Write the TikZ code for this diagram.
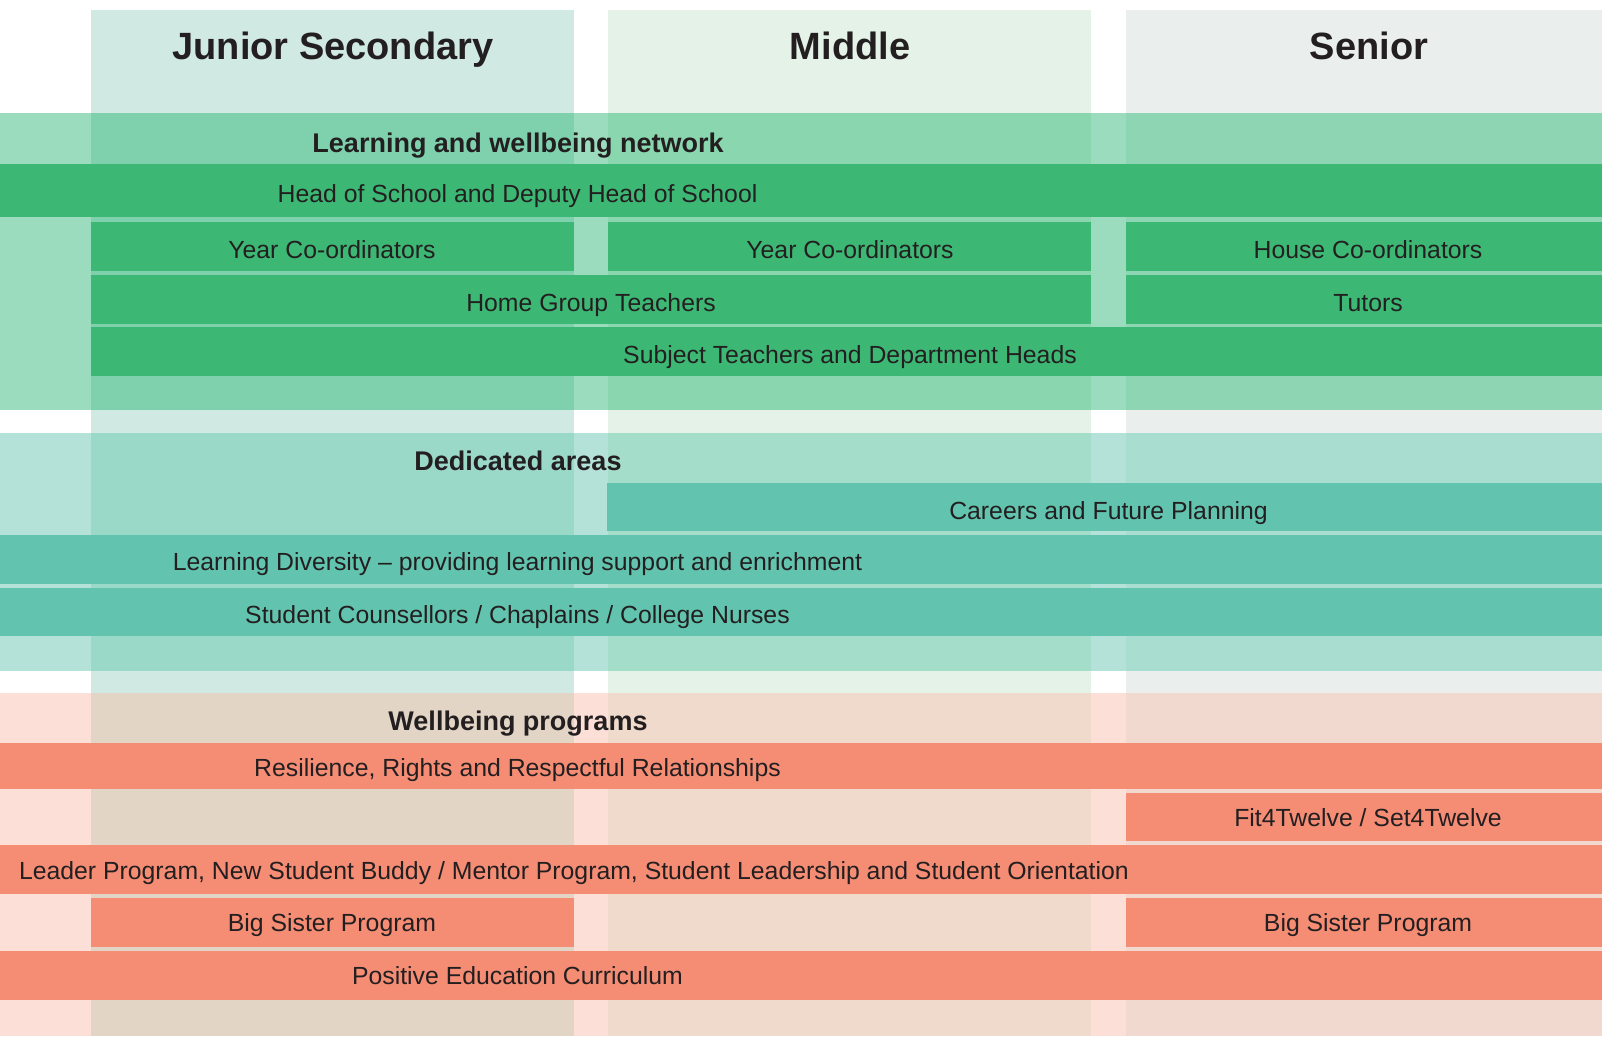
\documentclass[tikz,border=0pt]{standalone}
\usepackage{fontspec}
\setmainfont{Liberation Sans}
\definecolor{ink}{HTML}{231F20}
\definecolor{colJ}{HTML}{D1E9E3}
\definecolor{colM}{HTML}{E4F2E8}
\definecolor{colS}{HTML}{EAEEED}
\definecolor{aO}{HTML}{9CDCBE}
\definecolor{aJ}{HTML}{7FD1AE}
\definecolor{aM}{HTML}{8AD6AF}
\definecolor{aS}{HTML}{8ED5B4}
\definecolor{bO}{HTML}{B4E2D8}
\definecolor{bJ}{HTML}{9AD8C8}
\definecolor{bM}{HTML}{A5DDCB}
\definecolor{bS}{HTML}{A8DDCF}
\definecolor{cO}{HTML}{FCDFD6}
\definecolor{cJ}{HTML}{E3D5C6}
\definecolor{cM}{HTML}{F0DACC}
\definecolor{cS}{HTML}{F2D9D0}
\definecolor{barA}{HTML}{3DB874}
\definecolor{barB}{HTML}{62C4AF}
\definecolor{barC}{HTML}{F58D75}
\newcommand\bandbg[6]{%
  \fill[#3] (0,#1) rectangle (1602,#2);
  \fill[#4] (91,#1) rectangle (574,#2);
  \fill[#5] (608,#1) rectangle (1091,#2);
  \fill[#6] (1126,#1) rectangle (1602,#2);}
\begin{document}
\begin{tikzpicture}[x=1pt,y=-1pt,
  lbl/.style={text=ink,font=\fontsize{24.8}{28}\selectfont,inner sep=0pt,anchor=base},
  ttl/.style={text=ink,font=\bfseries\fontsize{27}{30}\selectfont,inner sep=0pt,anchor=base},
  hdr/.style={text=ink,font=\bfseries\fontsize{38}{44}\selectfont,inner sep=0pt,anchor=base}]
\useasboundingbox (0,0) rectangle (1602,1036);
\fill[white] (0,0) rectangle (1602,1036);
% column backgrounds
\fill[colJ] (91,10) rectangle (574,1036);
\fill[colM] (608,10) rectangle (1091,1036);
\fill[colS] (1126,10) rectangle (1602,1036);
\node[hdr] (hJ) at (333,59) {Junior Secondary};
\node[hdr] (hM) at (850,59) {Middle};
\node[hdr] (hS) at (1369,59) {Senior};
% band 1
\bandbg{113}{410}{aO}{aJ}{aM}{aS}
\node[ttl] (t1) at (518,152) {Learning and wellbeing network};
\fill[barA] (0,163.5) rectangle (1602,216.6);
\node[lbl] (head) at (517.5,202) {Head of School and Deputy Head of School};
\fill[barA] (91,221.7) rectangle (574,270.7);
\fill[barA] (608,221.7) rectangle (1091,270.7);
\fill[barA] (1126,221.7) rectangle (1602,270.7);
\node[lbl] (yc1) at (332,258) {Year Co-ordinators};
\node[lbl] (yc2) at (850,258) {Year Co-ordinators};
\node[lbl] (hc) at (1368,258) {House Co-ordinators};
\fill[barA] (91,274.8) rectangle (1091,323.9);
\fill[barA] (1126,274.8) rectangle (1602,323.9);
\node[lbl] (hgt) at (591,311) {Home Group Teachers};
\node[lbl] (tut) at (1368,311) {Tutors};
\fill[barA] (91,327) rectangle (1602,376);
\node[lbl] (sub) at (850,363.5) {Subject Teachers and Department Heads};
% band 2
\bandbg{433}{670.5}{bO}{bJ}{bM}{bS}
\node[ttl] (t2) at (518,470) {Dedicated areas};
\fill[barB] (607,483.3) rectangle (1602,531.3);
\node[lbl] (car) at (1108.5,519) {Careers and Future Planning};
\fill[barB] (0,535.4) rectangle (1602,583.6);
\node[lbl] (ld) at (517.5,570) {Learning Diversity -- providing learning support and enrichment};
\fill[barB] (0,587.5) rectangle (1602,636);
\node[lbl] (sc) at (517.5,623.5) {Student Counsellors / Chaplains / College Nurses};
% band 3
\bandbg{693}{1036}{cO}{cJ}{cM}{cS}
\node[ttl] (t3) at (518,730) {Wellbeing programs};
\fill[barC] (0,742.8) rectangle (1602,788.5);
\node[lbl] (res) at (517.5,776) {Resilience, Rights and Respectful Relationships};
\fill[barC] (1126,793) rectangle (1602,841);
\node[lbl] (fit) at (1368,826.5) {Fit4Twelve / Set4Twelve};
\fill[barC] (0,845) rectangle (1602,893.5);
\node[lbl,anchor=base east] (lead) at (1129,879) {Leader Program, New Student Buddy / Mentor Program, Student Leadership and Student Orientation};
\fill[barC] (91,898) rectangle (574,946.5);
\fill[barC] (1126,898) rectangle (1602,946.5);
\node[lbl] (bs1) at (332,931.5) {Big Sister Program};
\node[lbl] (bs2) at (1368,931.5) {Big Sister Program};
\fill[barC] (0,951) rectangle (1602,999.5);
\node[lbl] (pec) at (517.5,984.5) {Positive Education Curriculum};
\end{tikzpicture}
\end{document}
